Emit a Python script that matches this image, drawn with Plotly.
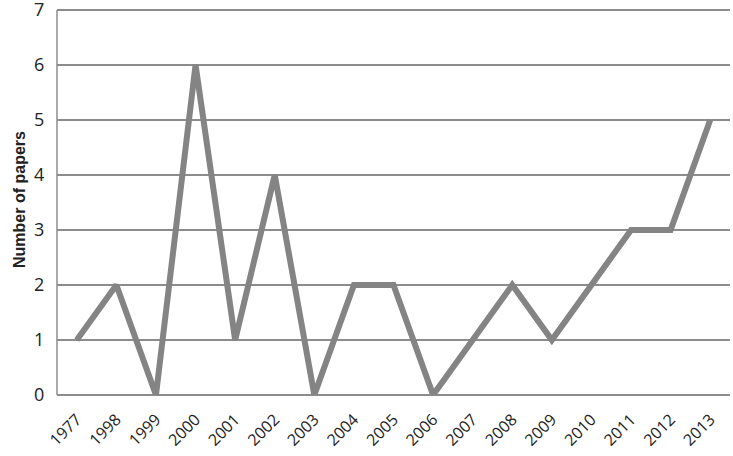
import plotly.graph_objects as go

years = ["1977", "1998", "1999", "2000", "2001", "2002", "2003", "2004", "2005",
         "2006", "2007", "2008", "2009", "2010", "2011", "2012", "2013"]
papers = [1, 2, 0, 6, 1, 4, 0, 2, 2, 0, 1, 2, 1, 2, 3, 3, 5]
y_ticks = [0, 1, 2, 3, 4, 5, 6, 7]

fig = go.Figure()
fig.add_trace(go.Scatter(x=years, y=papers, mode="lines",
                         line=dict(color="#848484", width=6),
                         cliponaxis=False))

fig.update_layout(
    width=733, height=456,
    margin=dict(l=57, r=3, t=4, b=61),
    paper_bgcolor="white", plot_bgcolor="white",
    showlegend=False,
    font=dict(family="Open Sans, sans-serif", color="#222", size=16),
)
fig.update_xaxes(type="category", range=[-0.5, 16.5], tickangle=-45,
                 showgrid=False, showline=False, automargin=False,
                 ticks="outside", ticklen=8, tickcolor="rgba(0,0,0,0)",
                 tickfont=dict(size=16))
fig.update_yaxes(range=[0, 7.108], tickmode="array", tickvals=y_ticks,
                 ticktext=[str(v) for v in y_ticks],
                 showgrid=True, gridcolor="#8c8c8c", gridwidth=1.5, showline=False,
                 zeroline=True, zerolinecolor="#8c8c8c", zerolinewidth=1.5,
                 ticks="outside", ticklen=8, tickcolor="rgba(0,0,0,0)",
                 tickfont=dict(size=18), automargin=False,
                 ticklabeloverflow="allow",
                 title=dict(text="<b>Number of papers</b>", standoff=4,
                            font=dict(family="Liberation Sans, Arial, sans-serif", size=16)))

# left axis line only up to the top gridline
fig.add_shape(type="line", xref="paper", yref="y", x0=0, x1=0, y0=0, y1=7,
              line=dict(color="#8c8c8c", width=1.5))

# drop the browser's default body margin so the figure sits at the page origin
fig.write_html("out.html", config={"displayModeBar": False},
               post_script="document.body.style.margin='0';")
